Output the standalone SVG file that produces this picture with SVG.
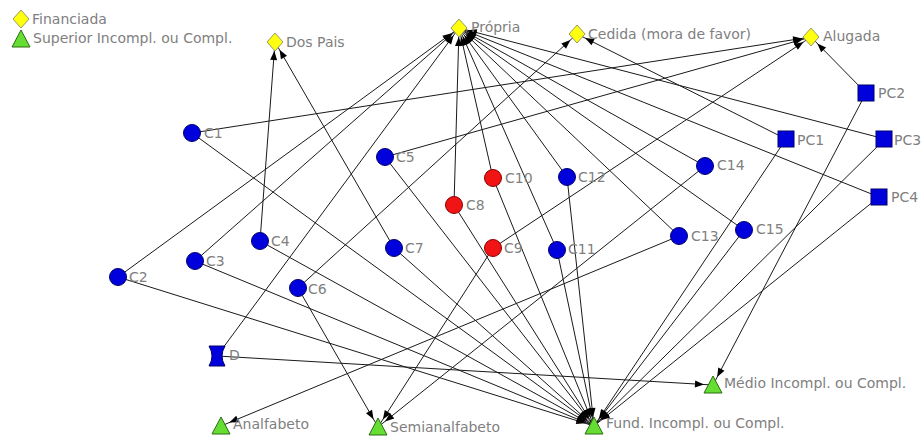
<svg xmlns="http://www.w3.org/2000/svg" xmlns:xlink="http://www.w3.org/1999/xlink" width="921" height="439" viewBox="0 0 921 439">
<style>
.lb{font-family:"DejaVu Sans","Liberation Sans",sans-serif;font-size:14px;fill:#808080}
.e{stroke:#1a1a1a;stroke-width:1;fill:none;marker-end:url(#a)}
.blue{fill:#0000dd;stroke:#00006e;stroke-width:1}
.red{fill:#f01414;stroke:#8a0000;stroke-width:1}
.yel{fill:#ffff10;stroke:#9a9a60;stroke-width:1}
.grn{fill:#66dd33;stroke:#2d6b12;stroke-width:1}
</style>
<defs>
<marker id="a" markerUnits="userSpaceOnUse" markerWidth="20" markerHeight="10" viewBox="-10 -5 20 10" refX="9" refY="0" orient="auto">
<path d="M0,0 L-9,-3.5 L-9,3.5 Z" fill="#000"/>
</marker>
<path id="dia" d="M0,-9 L8,0 L0,9 L-8,0 Z"/>
<circle id="cir" r="8.5"/>
<rect id="sq" x="-8" y="-8" width="16" height="16"/>
<path id="tri" d="M0,-9 L9,8 L-9,8 Z"/>
<path id="hg" d="M-8,-10 L8,-10 Q2,0 8,10 L-8,10 Q-2,0 -8,-10 Z"/>
</defs>
<rect width="921" height="439" fill="#fff"/>
<g id="connectors">
<line class="e" x1="192" y1="133" x2="811" y2="37"/>
<line class="e" x1="192" y1="133" x2="594" y2="426"/>
<line class="e" x1="118" y1="277" x2="459" y2="28"/>
<line class="e" x1="118" y1="277" x2="594" y2="426"/>
<line class="e" x1="195" y1="261" x2="459" y2="28"/>
<line class="e" x1="195" y1="261" x2="594" y2="426"/>
<line class="e" x1="260" y1="241" x2="275" y2="42"/>
<line class="e" x1="260" y1="241" x2="594" y2="426"/>
<line class="e" x1="385" y1="157" x2="811" y2="37"/>
<line class="e" x1="385" y1="157" x2="594" y2="426"/>
<line class="e" x1="298" y1="288" x2="577" y2="34"/>
<line class="e" x1="298" y1="288" x2="378" y2="427"/>
<line class="e" x1="394" y1="248" x2="275" y2="42"/>
<line class="e" x1="394" y1="248" x2="594" y2="426"/>
<line class="e" x1="454" y1="205" x2="459" y2="28"/>
<line class="e" x1="454" y1="205" x2="594" y2="426"/>
<line class="e" x1="493" y1="248" x2="811" y2="37"/>
<line class="e" x1="493" y1="248" x2="378" y2="427"/>
<line class="e" x1="493" y1="178" x2="459" y2="28"/>
<line class="e" x1="493" y1="178" x2="594" y2="426"/>
<line class="e" x1="557" y1="250" x2="459" y2="28"/>
<line class="e" x1="557" y1="250" x2="594" y2="426"/>
<line class="e" x1="567" y1="177" x2="459" y2="28"/>
<line class="e" x1="567" y1="177" x2="594" y2="426"/>
<line class="e" x1="679" y1="236" x2="459" y2="28"/>
<line class="e" x1="679" y1="236" x2="221" y2="426"/>
<line class="e" x1="705" y1="166" x2="459" y2="28"/>
<line class="e" x1="705" y1="166" x2="378" y2="427"/>
<line class="e" x1="744" y1="230" x2="459" y2="28"/>
<line class="e" x1="744" y1="230" x2="594" y2="426"/>
<line class="e" x1="786" y1="139" x2="577" y2="34"/>
<line class="e" x1="786" y1="139" x2="594" y2="426"/>
<line class="e" x1="866" y1="93" x2="811" y2="37"/>
<line class="e" x1="866" y1="93" x2="713" y2="385"/>
<line class="e" x1="885" y1="139" x2="459" y2="28"/>
<line class="e" x1="885" y1="139" x2="594" y2="426"/>
<line class="e" x1="879" y1="197" x2="459" y2="28"/>
<line class="e" x1="879" y1="197" x2="594" y2="426"/>
<line class="e" x1="217" y1="356" x2="459" y2="28"/>
<line class="e" x1="217" y1="356" x2="713" y2="385"/>
</g>
<g id="n-financiada"><use xlink:href="#dia" class="yel" x="21" y="19"/><text class="lb" x="32" y="24">Financiada</text></g>
<g id="n-superior"><use xlink:href="#tri" class="grn" x="21" y="39"/><text class="lb" x="33" y="43">Superior Incompl. ou Compl.</text></g>
<g id="n-dospais"><use xlink:href="#dia" class="yel" x="275" y="42"/><text class="lb" x="286" y="47">Dos Pais</text></g>
<g id="n-propria"><use xlink:href="#dia" class="yel" x="459" y="28"/><text class="lb" x="471" y="32">Própria</text></g>
<g id="n-cedida"><use xlink:href="#dia" class="yel" x="577" y="34"/><text class="lb" x="588" y="39">Cedida (mora de favor)</text></g>
<g id="n-alugada"><use xlink:href="#dia" class="yel" x="811" y="37"/><text class="lb" x="823" y="41">Alugada</text></g>
<g id="n-pc2"><use xlink:href="#sq" class="blue" x="866" y="93"/><text class="lb" x="878" y="98">PC2</text></g>
<g id="n-pc1"><use xlink:href="#sq" class="blue" x="786" y="139"/><text class="lb" x="797" y="145">PC1</text></g>
<g id="n-pc3"><use xlink:href="#sq" class="blue" x="884" y="139"/><text class="lb" x="894" y="145" font-size="13">PC3</text></g>
<g id="n-pc4"><use xlink:href="#sq" class="blue" x="879" y="197"/><text class="lb" x="891" y="202">PC4</text></g>
<g id="n-c1"><use xlink:href="#cir" class="blue" x="192" y="133"/><text class="lb" x="204" y="138">C1</text></g>
<g id="n-c2"><use xlink:href="#cir" class="blue" x="118" y="277"/><text class="lb" x="129" y="282">C2</text></g>
<g id="n-c3"><use xlink:href="#cir" class="blue" x="195" y="261"/><text class="lb" x="206" y="266">C3</text></g>
<g id="n-c4"><use xlink:href="#cir" class="blue" x="260" y="241"/><text class="lb" x="271" y="246">C4</text></g>
<g id="n-c5"><use xlink:href="#cir" class="blue" x="385" y="157"/><text class="lb" x="396" y="162">C5</text></g>
<g id="n-c6"><use xlink:href="#cir" class="blue" x="298" y="288"/><text class="lb" x="308" y="294">C6</text></g>
<g id="n-c7"><use xlink:href="#cir" class="blue" x="394" y="248"/><text class="lb" x="405" y="253">C7</text></g>
<g id="n-c8"><use xlink:href="#cir" class="red" x="454" y="205"/><text class="lb" x="466" y="210">C8</text></g>
<g id="n-c9"><use xlink:href="#cir" class="red" x="493" y="248"/><text class="lb" x="504" y="253">C9</text></g>
<g id="n-c10"><use xlink:href="#cir" class="red" x="493" y="178"/><text class="lb" x="505" y="183">C10</text></g>
<g id="n-c11"><use xlink:href="#cir" class="blue" x="557" y="250"/><text class="lb" x="568" y="254">C11</text></g>
<g id="n-c12"><use xlink:href="#cir" class="blue" x="567" y="177"/><text class="lb" x="578" y="182">C12</text></g>
<g id="n-c13"><use xlink:href="#cir" class="blue" x="679" y="236"/><text class="lb" x="691" y="241">C13</text></g>
<g id="n-c14"><use xlink:href="#cir" class="blue" x="705" y="166"/><text class="lb" x="717" y="170">C14</text></g>
<g id="n-c15"><use xlink:href="#cir" class="blue" x="744" y="230"/><text class="lb" x="756" y="234">C15</text></g>
<g id="n-d"><use xlink:href="#hg" class="blue" x="217" y="356"/><text class="lb" x="229" y="360">D</text></g>
<g id="n-analfabeto"><use xlink:href="#tri" class="grn" x="221" y="426"/><text class="lb" x="233" y="429">Analfabeto</text></g>
<g id="n-semianalfabeto"><use xlink:href="#tri" class="grn" x="378" y="427"/><text class="lb" x="390" y="432">Semianalfabeto</text></g>
<g id="n-fund"><use xlink:href="#tri" class="grn" x="594" y="426"/><text class="lb" x="606" y="428">Fund. Incompl. ou Compl.</text></g>
<g id="n-medio"><use xlink:href="#tri" class="grn" x="713" y="385"/><text class="lb" x="724" y="388">Médio Incompl. ou Compl.</text></g>
</svg>
